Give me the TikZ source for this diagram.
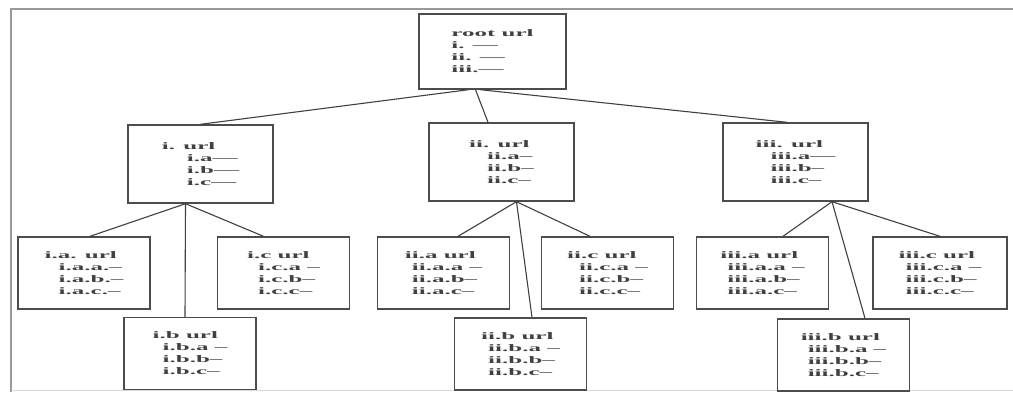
\documentclass[tikz,border=0pt]{standalone}
\usepackage{fontspec}
\usepackage{tikz}
\usetikzlibrary{positioning,calc}
\newfontfamily\urlfont[FakeStretch=2.5]{Liberation Serif}
\newcommand{\sub}[1]{\hspace*{#1pt}}
\tikzset{
  urlbox/.style ={rectangle, draw=black!70, line width=1.4pt,
                  minimum width=132pt, minimum height=72pt, inner sep=0pt,
                  font=\urlfont\bfseries\fontsize{10}{12}\selectfont,
                  text=black!75, align=left},
  midbox/.style ={urlbox, minimum width=145pt, minimum height=78pt},
  rootbox/.style={urlbox, minimum width=147pt, minimum height=75pt},
  link/.style   ={draw=black!75, line width=1.1pt},
  frame/.style  ={draw=black!40, line width=1.6pt},
}

\begin{document}
\begin{tikzpicture}[x=1pt,y=-1pt]
\useasboundingbox (0,0) rectangle (1013,392);
% ---- page frame -----------------------------------------------------
\draw[frame] (1013,9) -- (11,9) -- (11,392);
\draw[draw=black!15, line width=1pt] (11,390) -- (1013,390);

% ---- root -----------------------------------------------------------
\node[rootbox] (root) at (492.5,51.5) {root url\\i. —\\ii. —\\iii.—};

% ---- first level ----------------------------------------------------
\node[midbox] (ui)   at (200.5,164) {i. url\\\sub{25}i.a—\\\sub{25}i.b—\\\sub{25}i.c—};
\node[midbox] (uii)  at (501.5,162) {ii. url\\\sub{18}ii.a–\\\sub{18}ii.b–\\\sub{18}ii.c–};
\node[midbox] (uiii) at (795.5,162) {iii. url\\\sub{15}iii.a—\\\sub{15}iii.b–\\\sub{15}iii.c–};

% ---- second level ---------------------------------------------------
\node[urlbox] (uia)   at (84,273)    {i.a. url\\\sub{14}i.a.a.–\\\sub{14}i.a.b.–\\\sub{14}i.a.c.–};
\node[urlbox] (uib)   at (190,353.5) {i.b url\\\sub{10}i.b.a –\\\sub{10}i.b.b–\\\sub{10}i.b.c–};
\node[urlbox] (uic)   at (283.5,273) {i.c url\\\sub{11}i.c.a –\\\sub{11}i.c.b–\\\sub{11}i.c.c–};
\node[urlbox] (uiia)  at (443.5,273) {ii.a url\\\sub{7}ii.a.a –\\\sub{7}ii.a.b–\\\sub{7}ii.a.c–};
\node[urlbox] (uiib)  at (520.5,354) {ii.b url\\\sub{7}ii.b.a –\\\sub{7}ii.b.b–\\\sub{7}ii.b.c–};
\node[urlbox] (uiic)  at (607.5,273) {ii.c url\\\sub{12}ii.c.a –\\\sub{12}ii.c.b–\\\sub{12}ii.c.c–};
\node[urlbox] (uiiia) at (762.5,273) {iii.a url\\\sub{7}iii.a.a –\\\sub{7}iii.a.b–\\\sub{7}iii.a.c–};
\node[urlbox] (uiiib) at (843.5,355) {iii.b url\\\sub{7}iii.b.a –\\\sub{7}iii.b.b–\\\sub{7}iii.b.c–};
\node[urlbox, minimum width=134pt] (uiiic) at (940,273) {iii.c url\\\sub{7}iii.c.a –\\\sub{7}iii.c.b–\\\sub{7}iii.c.c–};

% ---- links ----------------------------------------------------------
\draw[link] ([xshift=-24pt]root.south) -- (ui.north);
\draw[link] ([xshift=-17pt]root.south) -- ([xshift=-13.5pt]uii.north);
\draw[link] ([xshift=-12pt]root.south) -- ([xshift=-8.5pt]uiii.north);

\draw[link] ([xshift=-15pt]ui.south) -- ([xshift=6pt]uia.north);
\draw[link] ([xshift=-15pt]ui.south) -- ([xshift=-5pt]uib.north);
\draw[link] ([xshift=-15pt]ui.south) -- ([xshift=-20pt]uic.north);

\draw[link] ([xshift=15pt]uii.south) -- ([xshift=14.5pt]uiia.north);
\draw[link] ([xshift=15pt]uii.south) -- ([xshift=11.5pt]uiib.north);
\draw[link] ([xshift=15pt]uii.south) -- ([xshift=-17.5pt]uiic.north);

\draw[link] ([xshift=36.5pt]uiii.south) -- ([xshift=20.5pt]uiiia.north);
\draw[link] ([xshift=36.5pt]uiii.south) -- ([xshift=21.5pt]uiiib.north);
\draw[link] ([xshift=36.5pt]uiii.south) -- (uiiic.north);
\end{tikzpicture}
\end{document}
